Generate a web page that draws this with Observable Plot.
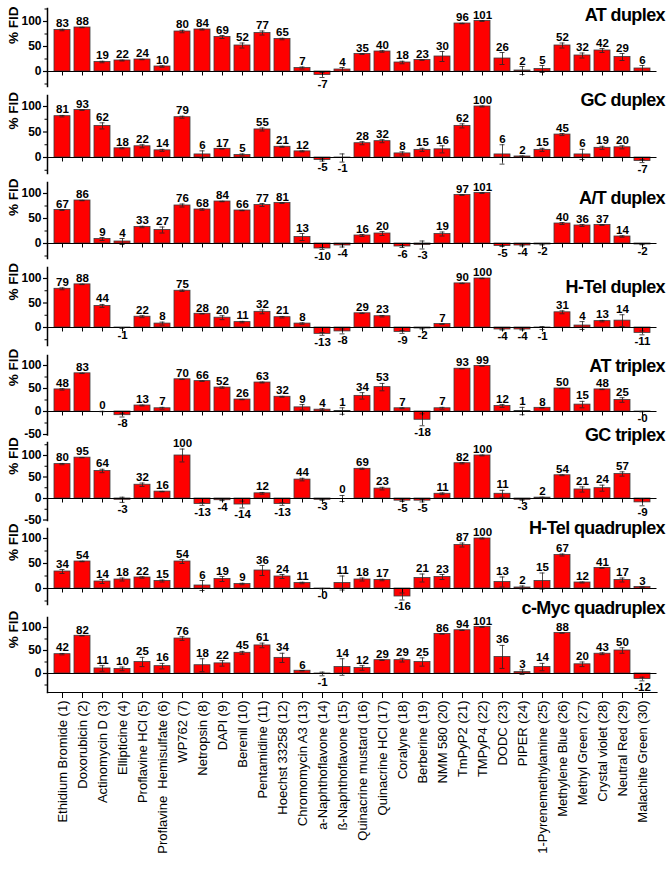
<!DOCTYPE html>
<html><head><meta charset="utf-8">
<script src="https://cdn.jsdelivr.net/npm/d3@7"></script>
<script src="https://cdn.jsdelivr.net/npm/@observablehq/plot@0.6"></script>
<style>
body{margin:0;background:#fff;}
#chart{position:relative;width:672px;height:877px;overflow:hidden;background:#fff;}
#chart svg{position:absolute;left:0;}
.title{position:absolute;right:7px;font:bold 18px "Liberation Sans",Arial,sans-serif;letter-spacing:-0.6px;line-height:16px;white-space:nowrap;color:#000;}
</style></head><body><div id="chart"></div>
<script>
const drugs = ["Ethidium Bromide (1)","Doxorubicin (2)","Actinomycin D (3)","Ellipticine (4)","Proflavine HCl (5)","Proflavine  Hemisulfate (6)","WP762 (7)","Netropsin (8)","DAPI (9)","Berenil (10)","Pentamidine (11)","Hoechst 33258 (12)","Chromomycin A3 (13)","a-Naphthoflavone (14)","ß-Naphthoflavone (15)","Quinacrine mustard (16)","Quinacrine HCl (17)","Coralyne (18)","Berberine (19)","NMM 580 (20)","TmPyP2 (21)","TMPyP4 (22)","DODC (23)","PIPER (24)","1-Pyrenemethylamine (25)","Methylene Blue (26)","Methyl Green (27)","Crystal violet (28)","Neutral Red (29)","Malachite Green (30)"];

const panelTitles = ["AT duplex","GC duplex","A/T duplex","H-Tel duplex","AT triplex","GC triplex","H-Tel quadruplex","c-Myc quadruplex"];

const atDuplex    = [83,88,19,22,24,10,80,84,69,52,77,65,7,-7,4,35,40,18,23,30,96,101,26,2,5,52,32,42,29,6];
const atDuplexErr = [1.5,0.5,1.5,1,0.5,1.5,2.5,1,3,5,4,1.5,2,5,4,1,1.5,2.5,0.5,10,0.5,1,12,8,7,5,5,4,7,6];
const gcDuplex    = [81,93,62,18,22,14,79,6,17,5,55,21,12,-5,-1,28,32,8,15,16,62,100,6,2,15,45,6,19,20,-7];
const gcDuplexErr = [1.5,0.5,6,1,3,2,2,7,0.5,2,3,1,1,2,8,3,3,3,3,7,4,1,19,1,3,2,10,3,3,3];
const atAltDuplex    = [67,86,9,4,33,27,76,68,84,66,77,81,13,-10,-4,16,20,-6,-3,19,97,101,-5,-4,-2,40,36,37,14,-2];
const atAltDuplexErr = [1,0.5,3,6,1.5,6,3,1.5,0.5,0.5,3,1,7,2,3,2,4,2,8,4,1,1,1,1,1,2,2,1,1.5,0.5];
const hTelDuplex    = [79,88,44,-1,22,8,75,28,20,11,32,21,8,-13,-8,29,23,-9,-2,7,90,100,-4,-4,-1,31,4,13,14,-11];
const hTelDuplexErr = [2,0.5,3,1,2,3,1.5,0.5,4,1.5,4,1.5,1.5,3,5,0.5,1.5,3,1,0.5,0.5,0.5,1,1,3,3,8,1.5,12,4];
const atTriplex    = [48,83,0,-8,13,7,70,66,52,26,63,32,9,4,1,34,53,7,-18,7,93,99,12,1,8,50,15,48,25,-0.3];
const atTriplexErr = [1.5,0.5,0.5,4,1,2,0.5,0.5,1.5,0.5,1,1,6,2,7,7,8,1,13,2,0.5,0.5,3,8,0.5,0.5,7,0.5,5,0.5];
const gcTriplex    = [80,95,64,-3,32,16,100,-13,-4,-14,12,-13,44,-3,0,69,23,-5,-5,11,82,100,11,-3,2,54,21,24,57,-9];
const gcTriplexErr = [1.5,0.5,4,6,4,0.5,15,3,1,8,2,3,3,1,7,1.5,3,2,3,2,1.5,1,8,1,1,1,6,7,5,8];
const hTelQuad    = [34,54,14,18,22,15,54,6,19,9,36,24,11,-0.3,11,18,17,-16,21,23,87,100,13,2,15,67,12,41,17,3];
const hTelQuadErr = [4,0.5,4,3,1.5,2,4,10,5,1.5,10,4,1.5,0.5,14,3,1.5,7,8,5,4,1,10,3,16,2,1,1,4,0.5];
const cMycQuad    = [42,82,11,10,25,16,76,18,22,45,61,34,6,-1,14,12,29,29,25,86,94,101,36,3,14,88,20,43,50,-12];
const cMycQuadErr = [1.5,0.5,6,4,10,6,4,14,6,3,5,10,0.5,4,18,5,0.5,4,9,0.5,0.5,0.5,25,5,8,0.5,5,2,6,4];

const seriesValues = [atDuplex,gcDuplex,atAltDuplex,hTelDuplex,atTriplex,gcTriplex,hTelQuad,cMycQuad];
const seriesErrors = [atDuplexErr,gcDuplexErr,atAltDuplexErr,hTelDuplexErr,atTriplexErr,gcTriplexErr,hTelQuadErr,cMycQuadErr];
const majorTicks = [-50,0,50,100];
const minorTicks = [-25,25,75,125];

// layout (page pixels): frame top, y of 100, y of 0, frame bottom
const frames = [[8,21,71,86],[95,106,157,173],[182,193,243,258],[267,278,327,345],[355,365,411,434.5],[442,455,498,520],[528,538,588,604],[617,627,673,692]];
const titleY = [15,100,198,287,366,435,528,608];

const FONT = '"Liberation Sans", Arial, Helvetica, sans-serif';
const chart = document.getElementById("chart");
const fmt = v => (v < 0 ? "-" + Math.abs(Math.round(v)) : String(Math.round(v)));

seriesValues.forEach((vals, i) => {
  const [top, y100, y0, bottom] = frames[i];
  const ppu = (y0 - y100) / 100;
  const ymax = (y0 - top) / ppu, ymin = (y0 - bottom) / ppu;
  const last = i === seriesValues.length - 1;
  const mt = 24, mb = last ? 877 - bottom : 24;
  const rows = drugs.map((d, j) => ({drug: d, v: vals[j], e: seriesErrors[i][j]}));
  const majors = majorTicks.filter(t => t >= ymin - 1e-6 && t <= ymax);
  const minors = minorTicks.filter(t => t >= ymin && t <= ymax);
  const marks = [
    Plot.barY(rows, {x: "drug", y: "v", fill: "#ff0000", stroke: "#3c3c3c", strokeWidth: 0.8}),
    Plot.ruleY([0], {stroke: "#000", strokeWidth: 1.2}),
    Plot.ruleX(rows, {x: "drug", y1: d => d.v - d.e, y2: d => d.v + d.e, stroke: "#222", strokeWidth: 0.8}),
    Plot.tickY(rows, {x: "drug", y: d => d.v + d.e, insetLeft: 5.5, insetRight: 5.5, stroke: "#222", strokeWidth: 0.8}),
    Plot.tickY(rows, {x: "drug", y: d => d.v - d.e, insetLeft: 5.5, insetRight: 5.5, stroke: "#222", strokeWidth: 0.8}),
    Plot.text(rows.filter(d => d.v >= 0), {x: "drug", y: d => d.v + d.e, text: d => fmt(d.v), lineAnchor: "bottom", dy: -2, fontWeight: "bold", fontSize: 11.5, fontFamily: FONT, fill: "#000"}),
    Plot.text(rows.filter(d => d.v < 0), {x: "drug", y: d => d.v - d.e, text: d => fmt(d.v), lineAnchor: "top", dy: 2, fontWeight: "bold", fontSize: 11.5, fontFamily: FONT, fill: "#000"}),
    Plot.frame({anchor: "left", stroke: "#000", strokeWidth: 1.5}),
    Plot.axisY({ticks: majors, label: null, tickSize: 4, tickPadding: 2, tickFormat: d => String(d), fontWeight: "bold", fontSize: 12, fontFamily: FONT, stroke: "#000", strokeWidth: 1.2}),
    Plot.axisY({ticks: minors, label: null, tickSize: 2.5, tickFormat: () => "", stroke: "#000"}),
    Plot.text(["% FID"], {frameAnchor: "left", y: 55, rotate: -90, dx: -34, fontWeight: "bold", fontSize: 13.5, fontFamily: FONT, fill: "#000"})
  ];
  if (!last) {
    marks.push(Plot.ruleX(drugs, {x: d => d, y1: 0, y2: -4.5 / ppu, stroke: "#000", strokeWidth: 1}));
  } else {
    marks.push(Plot.frame({anchor: "bottom", stroke: "#000", strokeWidth: 1.2}));
    marks.push(Plot.axisX({anchor: "bottom", label: null, tickSize: 6, tickPadding: 2, tickRotate: -90, fontSize: 13, fontFamily: FONT, stroke: "#000", fill: "#000"}));
  }
  const svg = Plot.plot({
    width: 672, height: mt + (bottom - top) + mb,
    marginTop: mt, marginBottom: mb, marginLeft: 47, marginRight: 15.5,
    style: {background: "transparent", overflow: "visible", fontFamily: FONT, color: "#000"},
    x: {type: "band", domain: drugs, paddingInner: 0.18, paddingOuter: 0.08, axis: null, label: null},
    y: {domain: [ymin, ymax], axis: null, label: null},
    marks
  });
  svg.style.top = (top - mt) + "px";
  chart.appendChild(svg);
});

panelTitles.forEach((t, i) => {
  const div = document.createElement("div");
  div.className = "title";
  div.textContent = t;
  div.style.top = (titleY[i] - 8) + "px";
  chart.appendChild(div);
});
</script></body></html>
